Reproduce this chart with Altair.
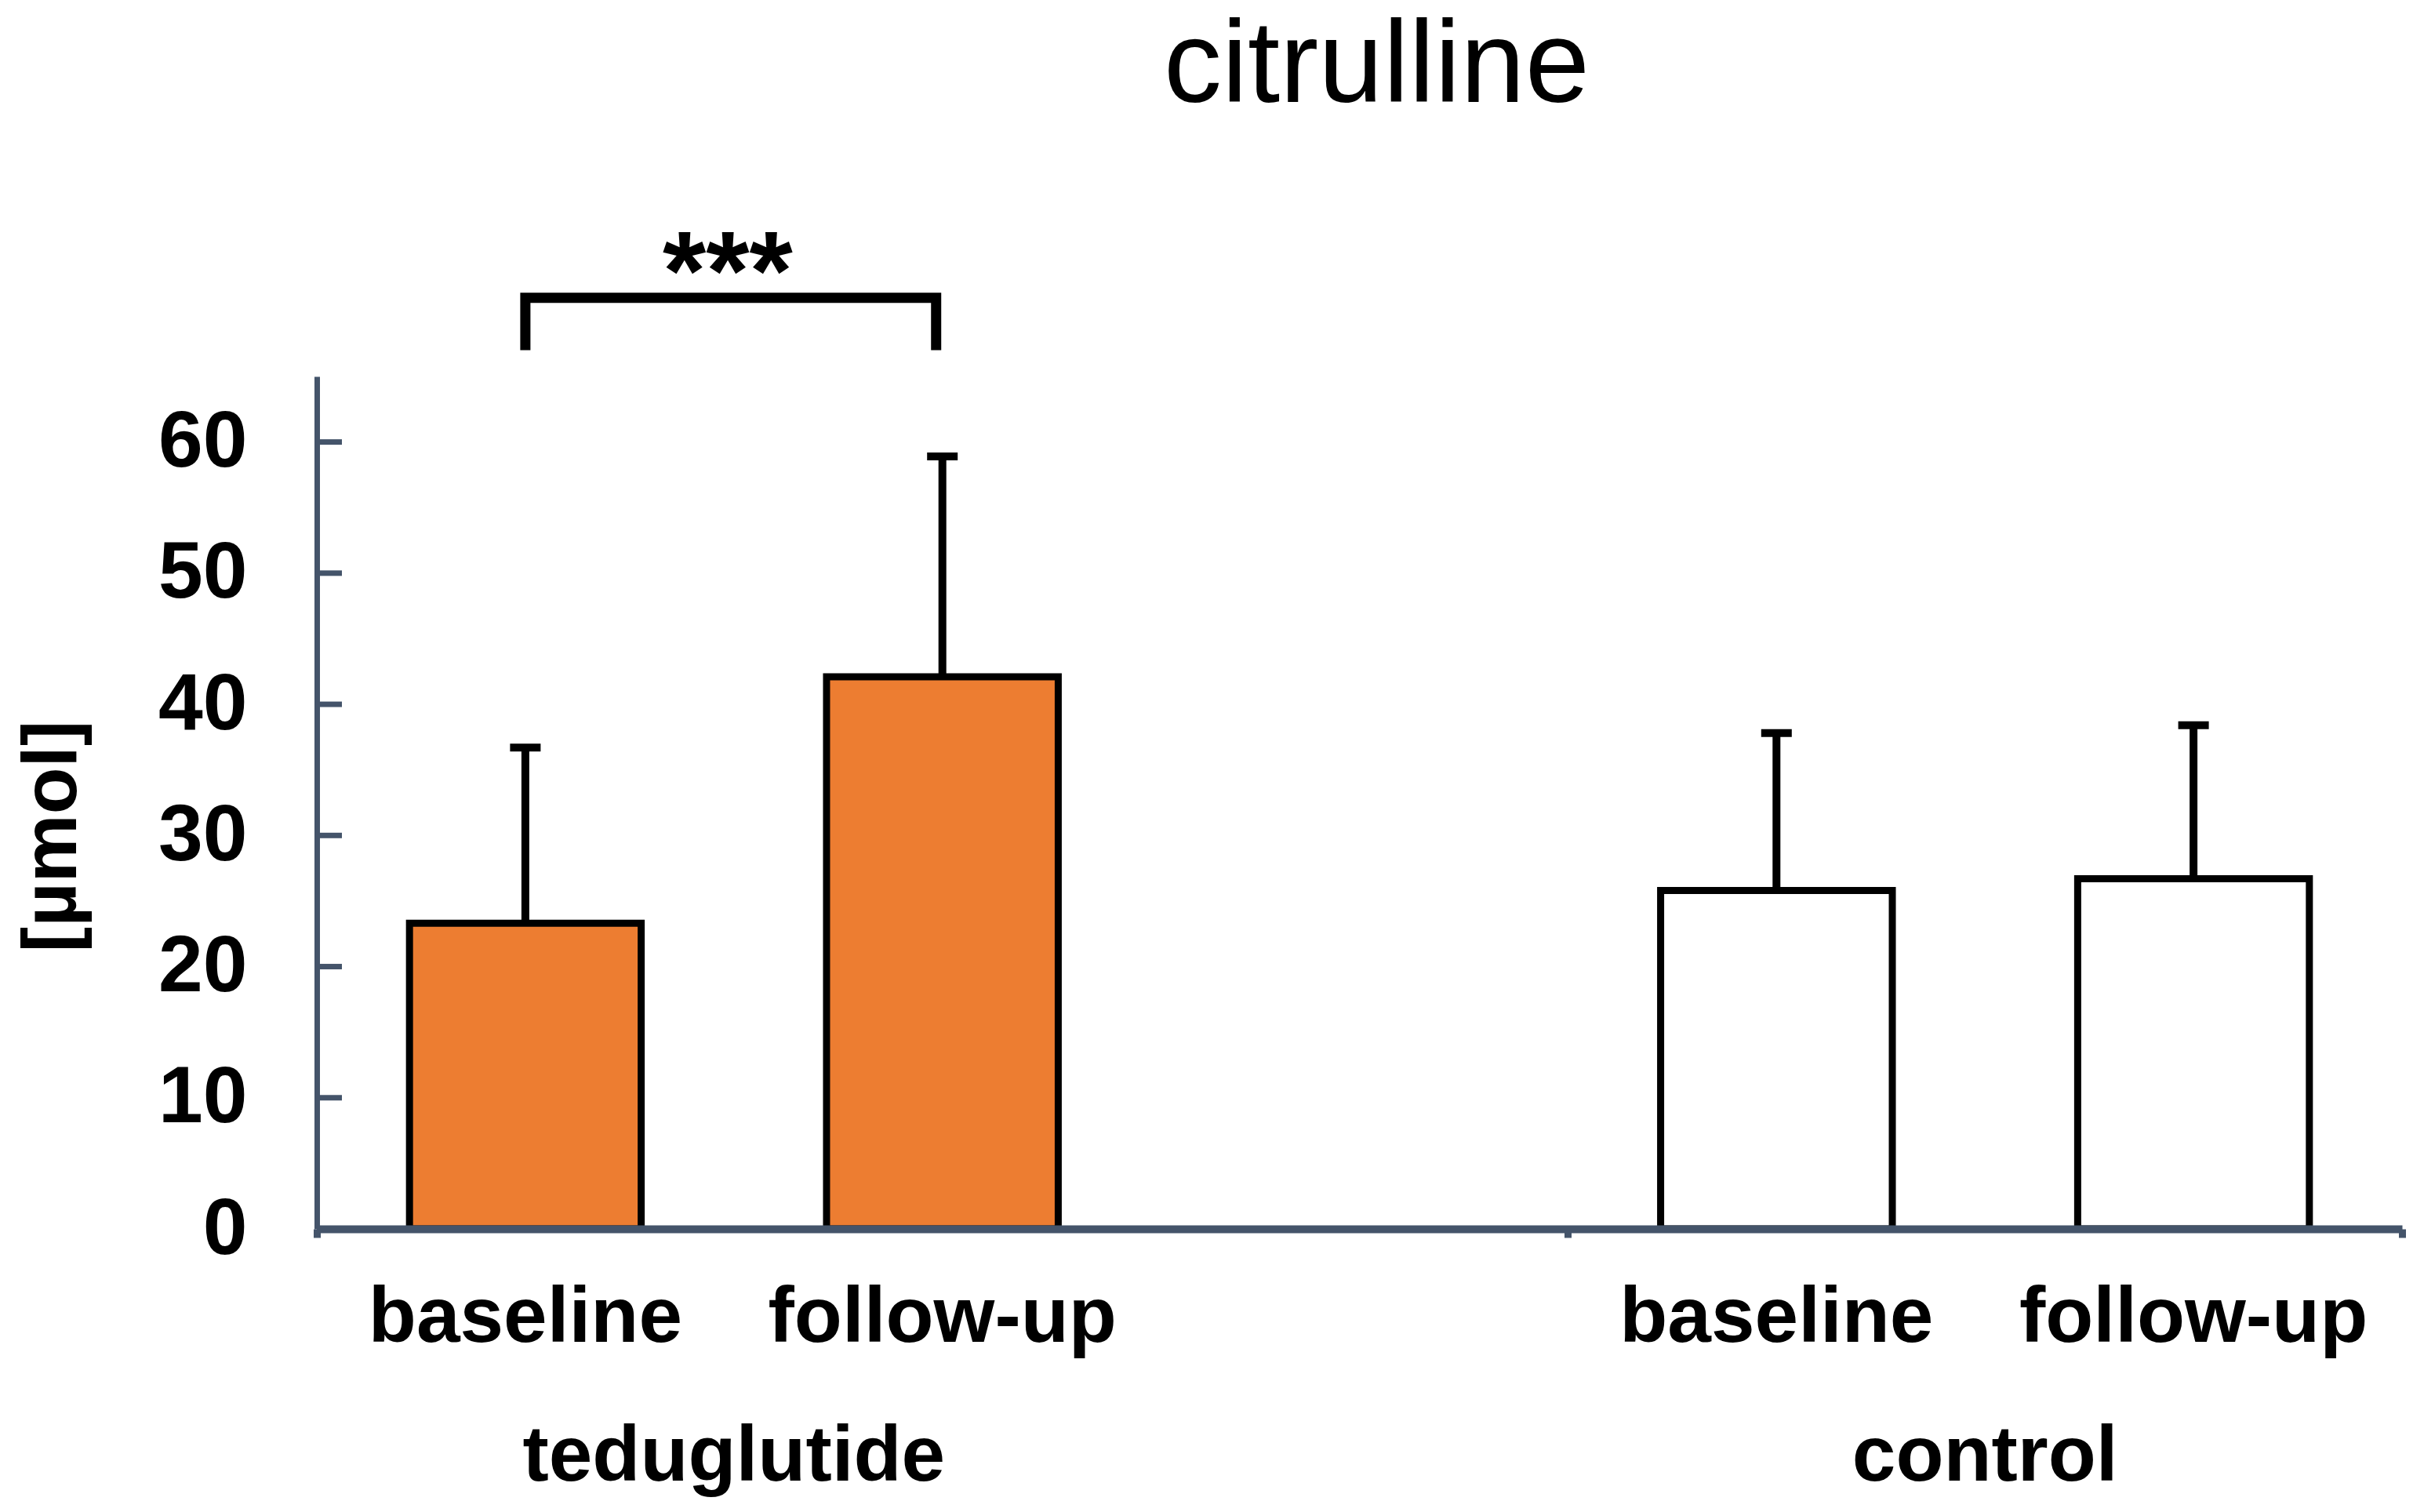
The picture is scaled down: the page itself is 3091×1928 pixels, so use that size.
import altair as alt
import pandas as pd

# ---- data ----
groups = ["teduglutide", "teduglutide", "control", "control"]
times = ["baseline", "follow-up", "baseline", "follow-up"]
means = [23.3, 42.1, 25.8, 26.7]
sds = [13.4, 16.8, 12.0, 11.7]
y_ticks = [0, 10, 20, 30, 40, 50, 60]
group_names = ["teduglutide", "control"]
significance = "***"
title_text = "citrulline"
y_title = "[µmol]"

# ---- layout helpers ----
group_start = {"teduglutide": 0, "control": 3}   # one empty slot between groups
n_slots = 5
half_w = 0.5 / 1.8                               # Excel-like gap width 80%
time_idx = {"baseline": 0, "follow-up": 1}

W, H = 2659, 1087
AXIS = "#44546A"
ORANGE = "#ED7D31"
FONT = "Liberation Sans"

pos = [group_start[g] + time_idx[t] + 0.5 for g, t in zip(groups, times)]
df = pd.DataFrame({
    "group": groups, "time": times, "mean": means, "sd": sds, "pos": pos,
})
df["x0"] = df["pos"] - half_w
df["x1"] = df["pos"] + half_w
df["upper"] = df["mean"] + df["sd"]
df["fill"] = [ORANGE if g == "teduglutide" else "white" for g in groups]

gdf = df.groupby("group", sort=False)["pos"].mean().reset_index()
gdf = gdf.set_index("group").loc[group_names].reset_index()

tick_df = pd.DataFrame({"v": y_ticks})
title_df = pd.DataFrame({"t": [title_text]})

# significance bracket between the two teduglutide bars
ted = df[df["group"] == "teduglutide"]
b_low, b_top = 67.0, 71.0
bracket = pd.DataFrame({
    "x": [ted["pos"].iloc[0], ted["pos"].iloc[0], ted["pos"].iloc[1] - 0.015, ted["pos"].iloc[1] - 0.015],
    "y": [b_low, b_top, b_top, b_low],
    "o": [0, 1, 2, 3],
})
star_df = pd.DataFrame({"x": [ted["pos"].mean()], "y": [b_top], "t": [significance]})

x_scale = alt.Scale(domain=[0, n_slots], nice=False, zero=False)
y_scale = alt.Scale(domain=[0, 65], nice=False)
x_bound_ticks = sorted(set(list(group_start.values()) + [n_slots]))

base = alt.Chart(df)

bars = base.mark_bar(stroke="black", strokeWidth=9).encode(
    x=alt.X("x0:Q", scale=x_scale,
            axis=alt.Axis(values=x_bound_ticks, labels=False, grid=False,
                          tickSize=11, tickWidth=9, tickColor=AXIS,
                          domainColor=AXIS, domainWidth=10, title=None, zindex=1)),
    x2="x1:Q",
    y=alt.Y("mean:Q", scale=y_scale,
            axis=alt.Axis(values=y_ticks, grid=False, ticks=False, tickSize=0,
                          domainColor=AXIS, domainWidth=7,
                          labelFont=FONT, labelFontSize=102, labelFontWeight="bold",
                          labelColor="black", labelPadding=89,
                          title=y_title, titleFont=FONT, titleFontSize=98,
                          titleFontWeight="bold", titleColor="black",
                          titleAngle=270, titleX=-308, titleY=586,
                          titleBaseline="alphabetic", titleAlign="center",
                          zindex=1)),
    y2=alt.datum(0),
    fill=alt.Fill("fill:N", scale=None),
)

stems = base.mark_rule(color="black", strokeWidth=10).encode(
    x="pos:Q", y="mean:Q", y2="upper:Q"
)
caps = base.mark_tick(color="black", thickness=10, size=39, orient="horizontal",
                      opacity=1).encode(
    x="pos:Q", y="upper:Q"
)

cat_labels = base.mark_text(font=FONT, fontSize=100, fontWeight="bold", color="black",
                            baseline="alphabetic", align="center").encode(
    x="pos:Q", y=alt.value(H + 144), text="time:N"
)
grp_labels = alt.Chart(gdf).mark_text(font=FONT, fontSize=100, fontWeight="bold",
                                      color="black", baseline="alphabetic",
                                      align="center").encode(
    x="pos:Q", y=alt.value(H + 321), text="group:N"
)

inner_ticks = alt.Chart(tick_df).mark_rule(color=AXIS, strokeWidth=7).encode(
    y="v:Q", x=alt.value(0), x2=alt.value(32)
)

br = alt.Chart(bracket).mark_line(color="black", strokeWidth=13, strokeJoin="miter",
                                  strokeCap="butt").encode(
    x="x:Q", y="y:Q", order="o:Q"
)
stars = alt.Chart(star_df).mark_text(font=FONT, fontSize=142, fontWeight="bold",
                                     color="black", baseline="alphabetic",
                                     align="center", dx=-8, dy=14).encode(
    x="x:Q", y="y:Q", text="t:N"
)

title_mark = alt.Chart(title_df).mark_text(font=FONT, fontSize=148, fontWeight="normal",
                                           color="black", baseline="alphabetic",
                                           align="center").encode(
    x=alt.value(W / 2 + 22), y=alt.value(-350), text="t:N"
)

chart = alt.layer(bars, stems, caps, cat_labels, grp_labels, inner_ticks, br, stars,
                  title_mark).properties(
    width=W, height=H,
    autosize=alt.AutoSizeParams(type="none"),
    padding={"left": 396, "top": 472, "right": 20, "bottom": 353},
    background="white",
).configure_view(stroke=None)

chart.save("out.html", embed_options={"renderer": "svg", "actions": False})
